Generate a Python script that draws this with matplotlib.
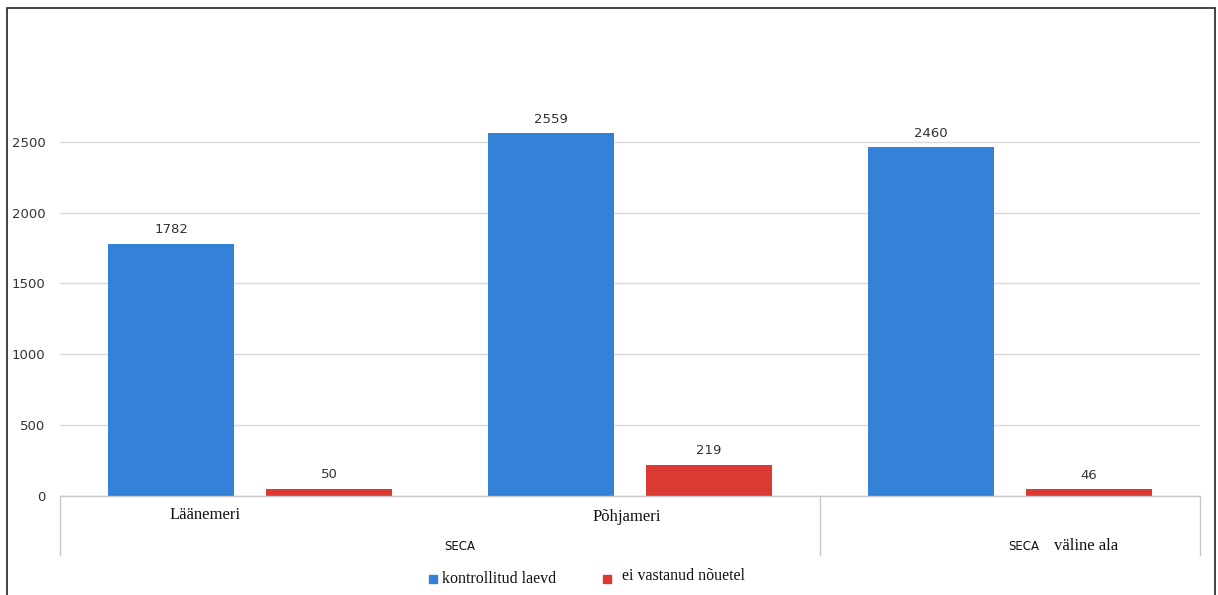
import numpy as np
import matplotlib.pyplot as plt
from matplotlib.patches import Rectangle

# andmed
regions = ["Läänemeri", "Põhjameri", ""]
kontrollitud = [1782, 2559, 2460]
ei_vastanud = [50, 219, 46]
yticks = [0, 500, 1000, 1500, 2000, 2500]

BLUE = "#3481d8"
RED = "#db3a34"
GRID = "#d9d9d9"
SERIF = "Liberation Serif"
SANS = "DejaVu Sans"

fig = plt.figure(figsize=(12.18, 5.95), dpi=100)
ax = fig.add_axes([0.0493, 0.1664, 0.9360, 0.7143])

x = np.arange(len(kontrollitud))
w = 0.332
off = 0.208

b1 = ax.bar(x - off, kontrollitud, w, color=BLUE, zorder=3)
b2 = ax.bar(x + off, ei_vastanud, w, color=RED, zorder=3)

for bars, vals in ((b1, kontrollitud), (b2, ei_vastanud)):
    for r, v in zip(bars, vals):
        ax.text(r.get_x() + r.get_width() / 2, v + 55, str(v),
                ha="center", va="bottom", fontsize=9.5, color="#333333",
                family=SANS)

ax.set_xlim(-0.5, 2.5)
ax.set_ylim(0, 3000)
ax.set_yticks(yticks)
ax.set_yticklabels([str(t) for t in yticks], fontsize=9.5, color="#333333",
                   family=SANS)
ax.tick_params(axis="y", length=0, pad=10.5)
ax.set_xticks([])
ax.grid(axis="y", color=GRID, linewidth=1, zorder=0)
for s in ax.spines.values():
    s.set_visible(False)

# mitmetasandiline x-telg
tr = ax.get_xaxis_transform()
ax.plot([-0.5, 2.5], [0, 0], color="#c8c8c8", lw=1, transform=tr,
        clip_on=False, zorder=4)
for sx in (-0.5, 1.5, 2.5):
    ax.plot([sx, sx], [0, -0.139], color="#c8c8c8", lw=1, transform=tr,
            clip_on=False)

ax.text(-0.118, -0.045, regions[0], transform=tr, ha="center", va="center",
        fontsize=12, family=SERIF, color="#111111")
ax.text(0.992, -0.05, regions[1], transform=tr, ha="center", va="center",
        fontsize=12, family=SERIF, color="#111111")
ax.text(0.553, -0.118, "SECA", transform=tr, ha="center", va="center",
        fontsize=8.5, family=SANS, color="#111111")
ax.text(2.035, -0.118, "SECA", transform=tr, ha="center", va="center",
        fontsize=8.5, family=SANS, color="#111111")
ax.text(2.2, -0.118, "väline ala", transform=tr, ha="center", va="center",
        fontsize=12, family=SERIF, color="#111111")

# legend
fig.patches.append(Rectangle((0.352, 0.02), 0.0066, 0.0134,
                             transform=fig.transFigure, color=BLUE))
fig.text(0.3625, 0.027, "kontrollitud laevd", ha="left", va="center",
         fontsize=11.5, family=SERIF, color="#111111")
fig.patches.append(Rectangle((0.495, 0.02), 0.0066, 0.0134,
                             transform=fig.transFigure, color=RED))
fig.text(0.511, 0.032, "ei vastanud nõuetel", ha="left", va="center",
         fontsize=11.5, family=SERIF, color="#111111")

# raam
fig.patches.append(Rectangle((0.0058, -0.01), 0.9918, 0.9965,
                             transform=fig.transFigure, fill=False,
                             edgecolor="#222222", lw=1.2))

fig.savefig("out.png", dpi=100, facecolor="white")
